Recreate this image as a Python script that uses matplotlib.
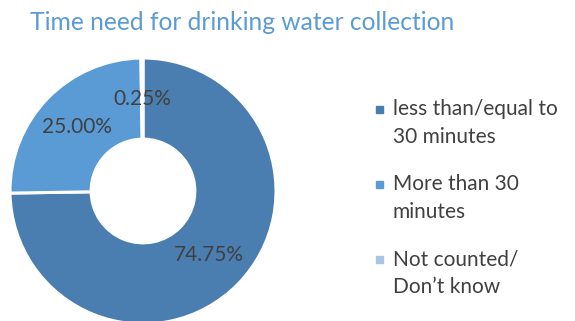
import matplotlib.pyplot as plt
from matplotlib.patches import Rectangle

plt.rcParams['font.family'] = ['Lato', 'DejaVu Sans']

categories = ["less than/equal to\n30 minutes", "More than 30\nminutes", "Not counted/\nDon\u2019t know"]
shares = [74.75, 25.00, 0.25]
colors = ["#4A7EB0", "#5B9BD5", "#A9C4E4"]

W, H = 575, 321
fig = plt.figure(figsize=(W / 100, H / 100), dpi=100)
ax = fig.add_axes([0, 0, 1, 1])
ax.set_xlim(0, W)
ax.set_ylim(0, H)
ax.set_aspect('equal')
ax.axis('off')

# donut, clockwise from twelve o'clock
wedges, texts, autotexts = ax.pie(
    shares, colors=colors, startangle=90, counterclock=False,
    center=(143, H - 191), radius=133,
    autopct=lambda p: "{:.2f}%".format(p), pctdistance=0.69,
    wedgeprops=dict(width=133 * 0.61, edgecolor="white", linewidth=2.2),
    textprops=dict(color="#404040", fontsize=15),
)
ax.set_xlim(0, W)
ax.set_ylim(0, H)

fig.text(30 / W, 1 - 23 / H, "Time need for drinking water collection",
         color="#5B9BD5", fontsize=17.7, va="center", ha="left")

# legend entries, square swatch next to the first line of each label
legend_base = [115, 190, 265]
line_step = 28
for label, color, y in zip(categories, colors, legend_base):
    ax.add_patch(Rectangle((376, H - y + 2), 7, 7, color=color))
    for k, line in enumerate(label.split("\n")):
        ax.text(393, H - y - k * line_step, line, fontsize=15, color="#404040",
                va="baseline", ha="left")

plt.savefig("out.png", dpi=100)
